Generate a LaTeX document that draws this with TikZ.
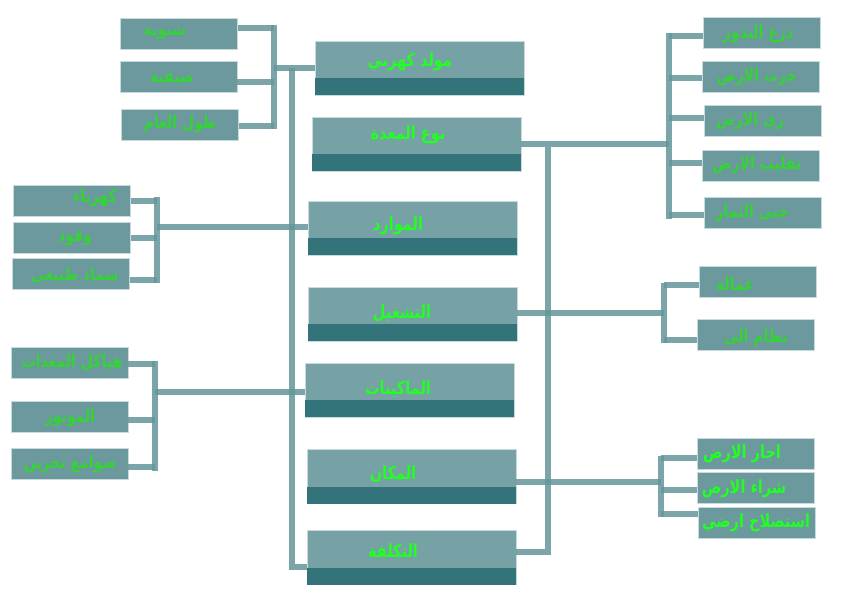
\documentclass[tikz,border=0pt]{standalone}
\usepackage{fontspec}
\usepackage{graphicx}
\newfontfamily\arabicfont[Script=Arabic, BoldFont={DejaVu Sans Bold}]{DejaVu Sans}
\TeXXeTstate=1
\definecolor{boxtop}{HTML}{76A2A5}
\definecolor{boxbot}{HTML}{327479}
\definecolor{sfill}{HTML}{6B999D}
\definecolor{edgec}{HTML}{C8DBDC}
\definecolor{linec}{HTML}{64969A}
\definecolor{bigtxt}{HTML}{22FF22}
\definecolor{smalltxt}{HTML}{33D433}
\newcommand\artxt[1]{\scalebox{1}[1.25]{\beginR #1\endR}}
\tikzset{
 bbox/.style={draw=edgec, line width=0.8pt, fill=boxtop, minimum width=209pt, minimum height=54pt, inner sep=0pt},
 sbox/.style={draw=edgec, line width=0.8pt, fill=sfill, minimum width=117pt, minimum height=31pt, inner sep=0pt},
 btext/.style={font=\arabicfont\bfseries\fontsize{14.5}{16}\selectfont, text=bigtxt, inner sep=0pt},
 stext/.style={font=\arabicfont\bfseries\fontsize{14}{16}\selectfont, text=smalltxt, inner sep=0pt},
 conn/.style={draw=linec, line width=6pt, draw opacity=0.85},
 bandfill/.style={fill=boxbot},
}
\newcommand\mybandfill[1]{\fill[bandfill] ([xshift=0.4pt,yshift=0.4pt]#1.south west) rectangle ([xshift=-0.4pt,yshift=17pt]#1.south east);}
\begin{document}
\begin{tikzpicture}[x=1pt,y=-1pt]
\fill[white] (0,0) rectangle (842,595);
\useasboundingbox (0,0) rectangle (842,595);

% central boxes
\node[bbox] (m1) at (419.5,68) {};
\node[bbox] (m2) at (416.5,144) {};
\node[bbox] (m3) at (412.5,228) {};
\node[bbox] (m4) at (412.5,314) {};
\node[bbox] (m5) at (409.5,390) {};
\node[bbox] (m6) at (411.5,476.5) {};
\node[bbox] (m7) at (411.5,557.5) {};
\mybandfill{m1}\mybandfill{m2}\mybandfill{m3}\mybandfill{m4}\mybandfill{m5}\mybandfill{m6}\mybandfill{m7}
\node[btext] (m1t) at (410,62) {\artxt{مولد كهربي}};
\node[btext] (m2t) at (408,135) {\artxt{نوع المعدة}};
\node[btext] (m3t) at (398,226) {\artxt{الموارد}};
\node[btext] (m4t) at (402,313) {\artxt{التشغيل}};
\node[btext] (m5t) at (398,389) {\artxt{الماكينات}};
\node[btext] (m6t) at (393,474) {\artxt{المكان}};
\node[btext] (m7t) at (393,551) {\artxt{التكلفة}};

% left group 1
\node[sbox] (s1) at (179,33.5) {};
\node[sbox] (s2) at (178.5,77) {};
\node[sbox] (s3) at (180,124.5) {};
\node[stext] (s1t) at (165,33) {\artxt{شتوية}};
\node[stext] (s2t) at (172,78) {\artxt{صيفية}};
\node[stext] (s3t) at (180,124) {\artxt{طول العام}};

% right group 1
\node[sbox] (t1) at (761.5,33) {};
\node[sbox] (t2) at (760.5,76.5) {};
\node[sbox] (t3) at (762.5,120.5) {};
\node[sbox] (t4) at (760.5,165.5) {};
\node[sbox] (t5) at (762.5,212.5) {};
\node[stext] (t1t) at (758,34) {\artxt{ذرع البذور}};
\node[stext] (t2t) at (757,77) {\artxt{حرث الارض}};
\node[stext] (t3t) at (750,121) {\artxt{ري الارض}};
\node[stext] (t4t) at (757,165) {\artxt{تقليب الارض}};
\node[stext] (t5t) at (752,213) {\artxt{جنى الثمار}};

% left group 2
\node[sbox] (u1) at (72,200.5) {};
\node[sbox] (u2) at (72,238) {};
\node[sbox] (u3) at (71,274) {};
\node[stext] (u1t) at (95,198) {\artxt{كهرباء}};
\node[stext] (u2t) at (75,238) {\artxt{وقود}};
\node[stext] (u3t) at (75,275) {\artxt{سماد طبيعى}};

% left group 3
\node[sbox] (v1) at (69.5,363) {};
\node[sbox] (v2) at (69.5,416.5) {};
\node[sbox] (v3) at (69.5,463.5) {};
\node[stext] (v1t) at (72,362) {\artxt{هياكل المعدات}};
\node[stext] (v2t) at (70,418) {\artxt{الموتور}};
\node[stext] (v3t) at (70,464) {\artxt{صوامع تخزين}};

% right group 2
\node[sbox] (w1) at (758,281.5) {};
\node[sbox] (w2) at (755.5,335) {};
\node[stext] (w1t) at (735,284) {\artxt{عمالة}};
\node[stext] (w2t) at (756,338) {\artxt{نظام الى}};

% right group 3
\node[sbox] (x1) at (755.5,453.5) {};
\node[sbox] (x2) at (755.5,488) {};
\node[sbox] (x3) at (757,523) {};
\node[btext] (x1t) at (742,454) {\artxt{اجار الارض}};
\node[btext] (x2t) at (744,489) {\artxt{شراء الارض}};
\node[btext] (x3t) at (756,523) {\artxt{استصلاح ارضي}};

% connectors
\coordinate (b1) at (274,25); \coordinate (b1e) at (274,129);
\draw[conn] (b1) -- (b1e);
\draw[conn] ([yshift=5.5pt]s1.east) -- ([yshift=5.5pt]s1.east -| b1);
\draw[conn] ([yshift=-5pt]s2.east) -- ([yshift=-5pt]s2.east -| b1);
\draw[conn] ([yshift=-1.5pt]s3.east) -- ([yshift=-1.5pt]s3.east -| b1);
\draw[conn] (m1.west -| b1) -- (m1.west);

\coordinate (tl) at (292,68);
\draw[conn] (tl) -- ([yshift=-9.5pt]m7.west -| tl) -- ([yshift=-9.5pt]m7.west);

\coordinate (r1) at (669,33); \coordinate (r1e) at (669,219);
\draw[conn] (r1) -- (r1e);
\draw[conn] (m2.east) -- (m2.east -| r1);
\draw[conn] ([yshift=-3pt]t1.west) -- ([yshift=-3pt]t1.west -| r1);
\draw[conn] ([yshift=-1.5pt]t2.west) -- ([yshift=-1.5pt]t2.west -| r1);
\draw[conn] ([yshift=2.5pt]t3.west) -- ([yshift=2.5pt]t3.west -| r1);
\draw[conn] ([yshift=2.5pt]t4.west) -- ([yshift=2.5pt]t4.west -| r1);
\draw[conn] ([yshift=-2.5pt]t5.west) -- ([yshift=-2.5pt]t5.west -| r1);

\coordinate (tr) at (548,147);
\draw[conn] (tr) -- ([yshift=5.5pt]m7.east -| tr) -- ([yshift=5.5pt]m7.east);

\coordinate (b2) at (157,197); \coordinate (b2e) at (157,283);
\draw[conn] (b2) -- (b2e);
\draw[conn] (u1.east) -- (u1.east -| b2);
\draw[conn] (u2.east) -- (u2.east -| b2);
\draw[conn] ([yshift=-6pt]u3.east) -- ([yshift=-6pt]u3.east -| b2);
\draw[conn] ([yshift=1pt]m3.west -| b2) -- ([yshift=1pt]m3.west);

\coordinate (b3) at (155,361); \coordinate (b3e) at (155,471);
\draw[conn] (b3) -- (b3e);
\draw[conn] ([yshift=-1pt]v1.east) -- ([yshift=-1pt]v1.east -| b3);
\draw[conn] ([yshift=-3.5pt]v2.east) -- ([yshift=-3.5pt]v2.east -| b3);
\draw[conn] ([yshift=-3.5pt]v3.east) -- ([yshift=-3.5pt]v3.east -| b3);
\draw[conn] ([yshift=-2pt]m5.west -| b3) -- ([yshift=-2pt]m5.west);

\coordinate (r2) at (664,283); \coordinate (r2e) at (664,343);
\draw[conn] (r2) -- (r2e);
\draw[conn] ([yshift=1pt]m4.east) -- ([yshift=1pt]m4.east -| r2);
\draw[conn] ([yshift=-3.5pt]w1.west) -- ([yshift=-3.5pt]w1.west -| r2);
\draw[conn] ([yshift=-5pt]w2.west) -- ([yshift=-5pt]w2.west -| r2);

\coordinate (r3) at (661,456); \coordinate (r3e) at (661,517);
\draw[conn] (r3) -- (r3e);
\draw[conn] ([yshift=-5.5pt]m6.east) -- ([yshift=-5.5pt]m6.east -| r3);
\draw[conn] ([yshift=-4.5pt]x1.west) -- ([yshift=-4.5pt]x1.west -| r3);
\draw[conn] ([yshift=-2pt]x2.west) -- ([yshift=-2pt]x2.west -| r3);
\draw[conn] ([yshift=9pt]x3.west) -- ([yshift=9pt]x3.west -| r3);
\end{tikzpicture}
\end{document}
